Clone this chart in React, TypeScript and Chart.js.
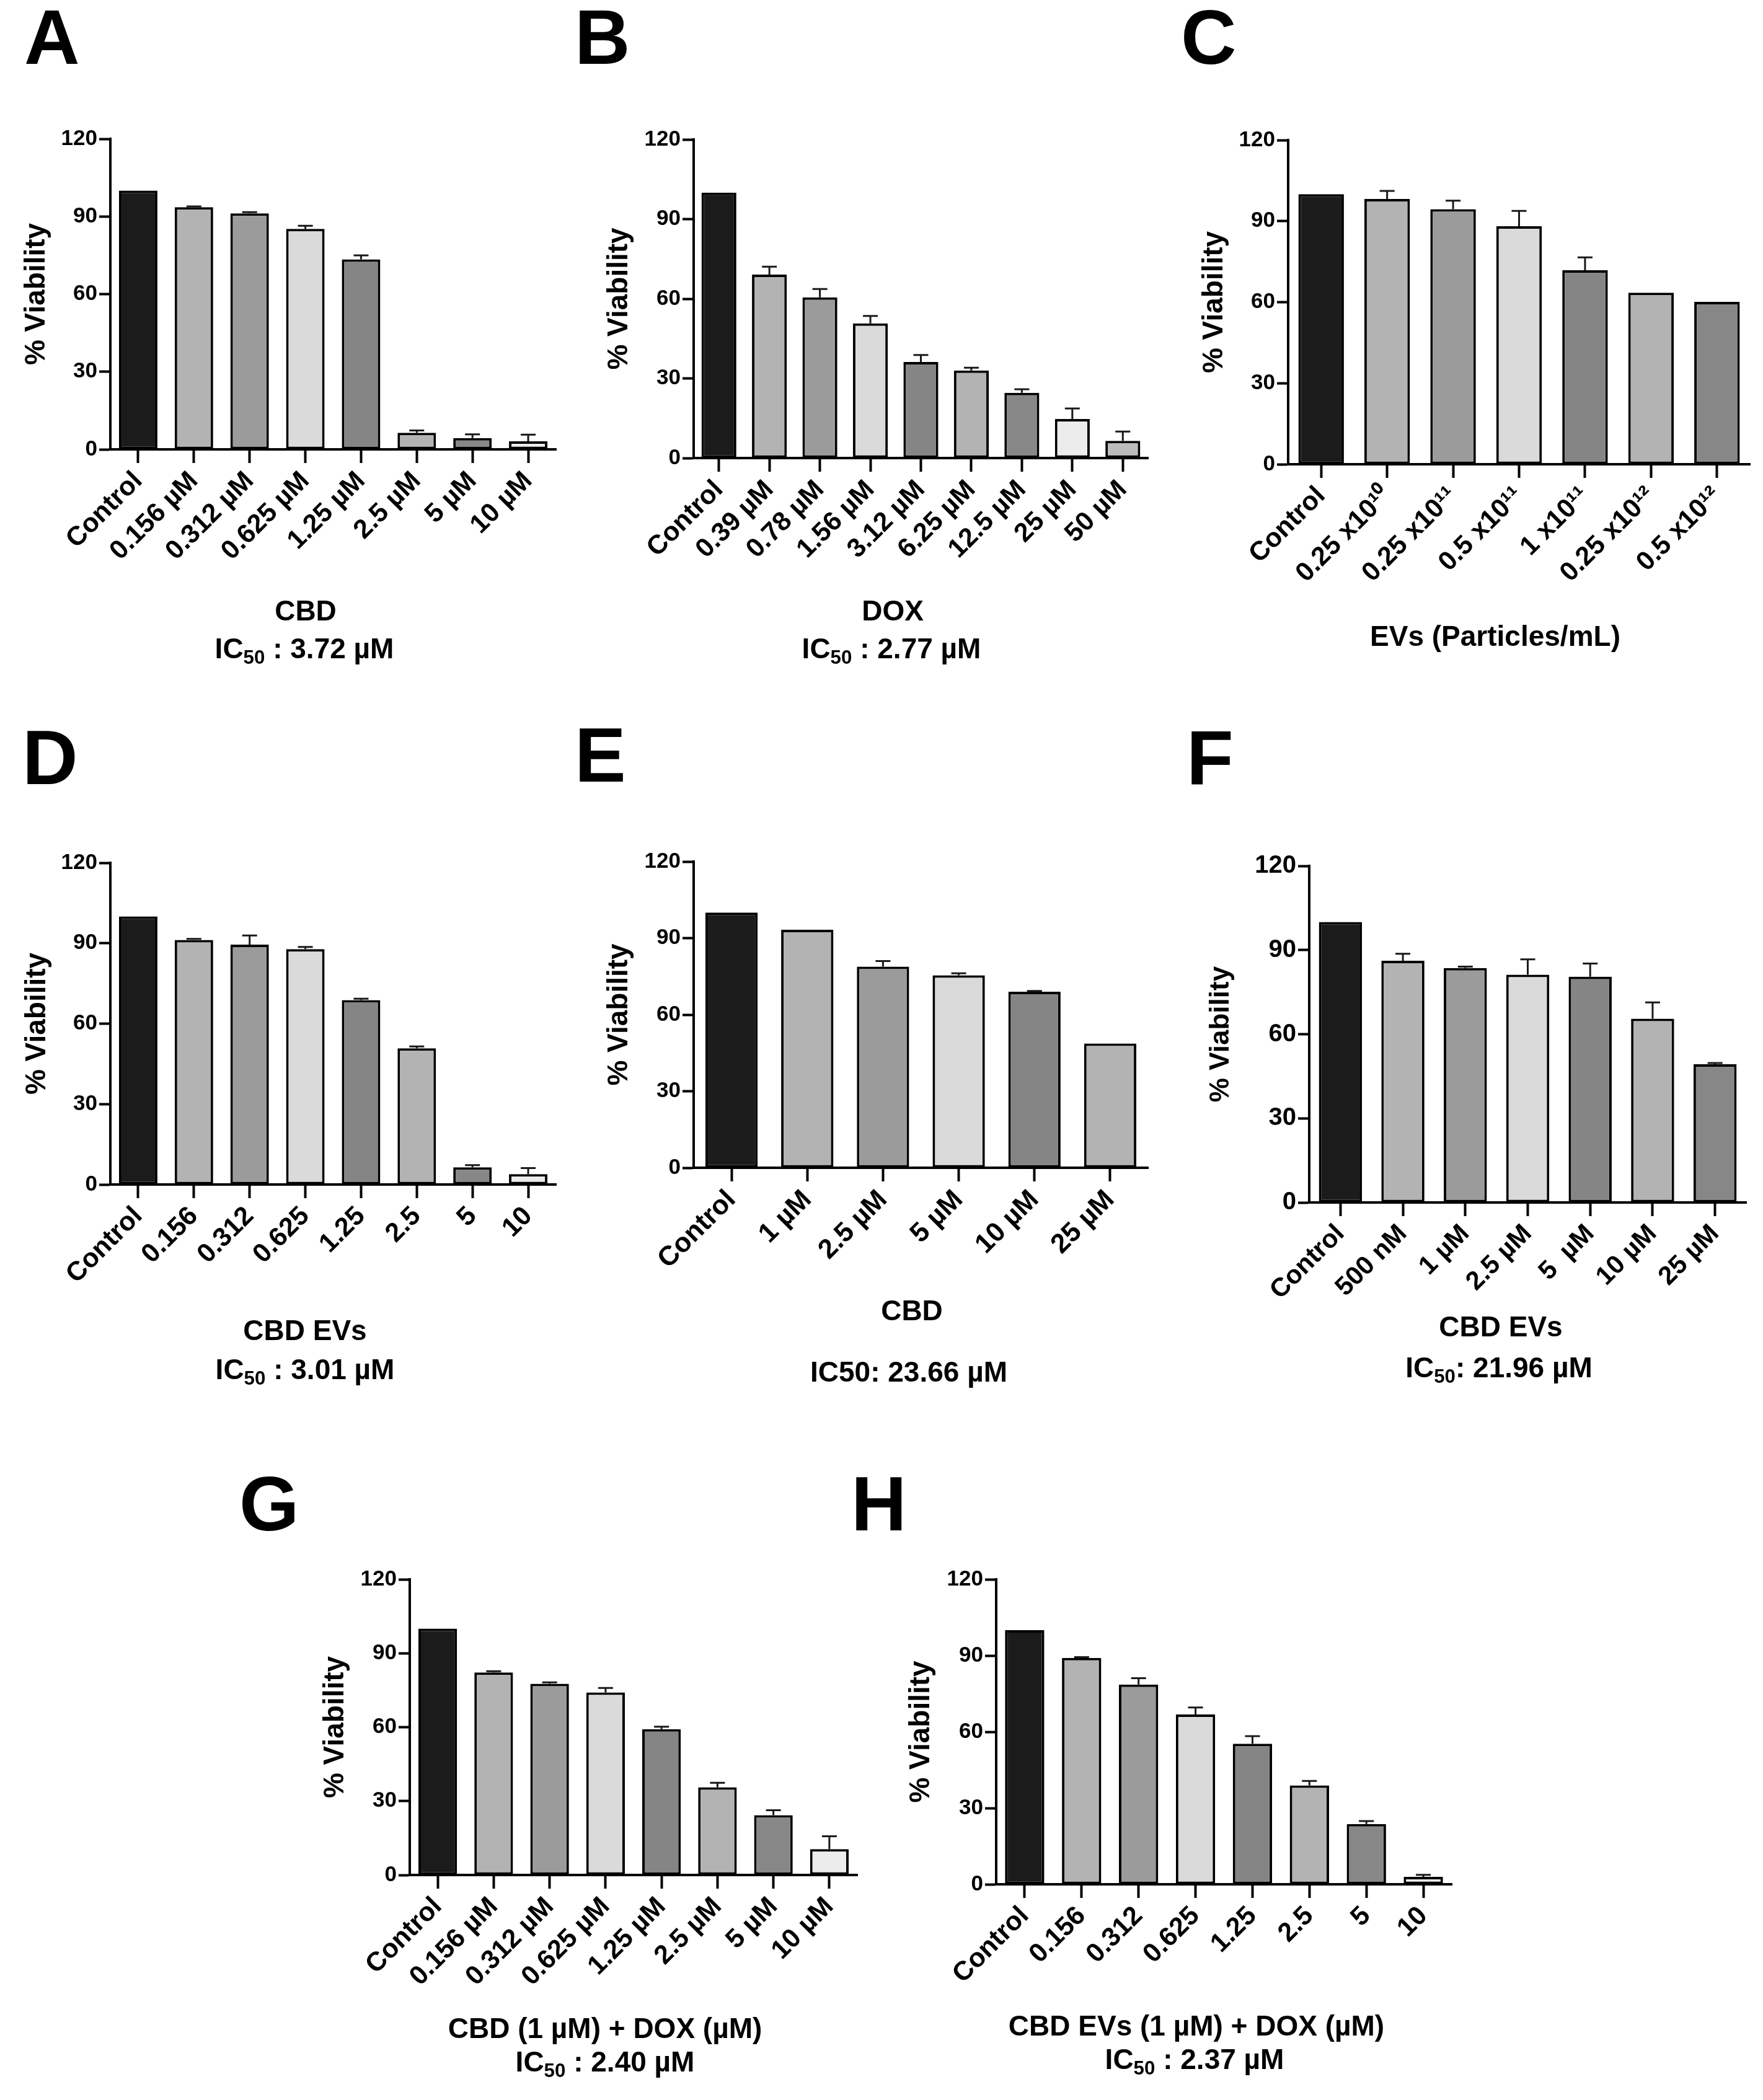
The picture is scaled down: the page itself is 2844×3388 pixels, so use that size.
import React, { useEffect, useRef } from 'react';
import { Chart, registerables } from 'chart.js';

Chart.register(...registerables);

const FONT = '"Liberation Sans", Arial, Helvetica, sans-serif';

// ---------- data ----------
const catsA = ['Control', '0.156 µM', '0.312 µM', '0.625 µM', '1.25 µM', '2.5 µM', '5 µM', '10 µM'];
const valsA = [100, 93.6, 91.2, 85.2, 73.4, 6.4, 4.4, 3.1];
const errA = [0, 0.3, 0.5, 1.2, 1.6, 0.9, 1.4, 2.6];

const catsB = ['Control', '0.39 µM', '0.78 µM', '1.56 µM', '3.12 µM', '6.25 µM', '12.5 µM', '25 µM', '50 µM'];
const valsB = [100, 69.1, 60.5, 50.7, 36.2, 33.0, 24.6, 14.7, 6.5];
const errB = [0, 3.0, 3.2, 2.8, 2.6, 1.0, 1.3, 4.0, 3.5];

const catsC = ['Control', '0.25 x10¹⁰', '0.25 x10¹¹', '0.5 x10¹¹', '1 x10¹¹', '0.25 x10¹²', '0.5 x10¹²'];
const valsC = [100, 98.2, 94.4, 88.1, 71.8, 63.5, 60.1];
const errC = [0, 3.0, 3.2, 5.7, 4.8, 0, 0];

const catsD = ['Control', '0.156', '0.312', '0.625', '1.25', '2.5', '5', '10'];
const valsD = [100, 91.2, 89.5, 87.8, 68.8, 50.8, 6.4, 3.9];
const errD = [0, 0.4, 3.4, 0.8, 0.5, 0.7, 0.8, 2.2];

const catsE = ['Control', '1 µM', '2.5 µM', '5 µM', '10 µM', '25 µM'];
const valsE = [100, 93.3, 78.8, 75.4, 69.0, 48.7];
const errE = [0, 0, 2.2, 0.8, 0.3, 0];

const catsF = ['Control', '500 nM', '1 µM', '2.5 µM', '5  µM', '10 µM', '25 µM'];
const valsF = [100, 86.2, 83.6, 81.2, 80.5, 65.5, 49.3];
const errF = [0, 2.5, 0.5, 5.5, 4.7, 5.8, 0.4];

const catsG = ['Control', '0.156 µM', '0.312 µM', '0.625 µM', '1.25 µM', '2.5 µM', '5 µM', '10 µM'];
const valsG = [100, 82.2, 77.6, 74.1, 59.2, 35.6, 24.3, 10.5];
const errG = [0, 0.5, 0.6, 1.8, 1.0, 1.8, 2.0, 5.2];

const catsH = ['Control', '0.156', '0.312', '0.625', '1.25', '2.5', '5', '10'];
const valsH = [100, 89.1, 78.6, 66.8, 55.3, 38.9, 23.7, 2.9];
const errH = [0, 0.3, 2.5, 2.8, 3.0, 1.8, 1.2, 0.8];

const yTicks = [0, 30, 60, 90, 120];
const yTitle = '% Viability';

const letters = ['A', 'B', 'C', 'D', 'E', 'F', 'G', 'H'];
const xTitles = ['CBD', 'DOX', 'EVs (Particles/mL)', 'CBD EVs', 'CBD', 'CBD EVs', 'CBD (1 µM) + DOX (µM)', 'CBD EVs (1 µM) + DOX (µM)'];
// IC50 lines: [prefix, subscript, suffix]
const ic50Lines: (string[] | null)[] = [
  ['IC', '50', ' : 3.72 µM'],
  ['IC', '50', ' : 2.77 µM'],
  null,
  ['IC', '50', ' : 3.01 µM'],
  ['IC50: 23.66 µM', '', ''],
  ['IC', '50', ': 21.96 µM'],
  ['IC', '50', ' : 2.40 µM'],
  ['IC', '50', ' : 2.37 µM'],
];

const FILLS = ['#1b1b1b', '#b3b3b3', '#9b9b9b', '#dadada', '#858585', '#b3b3b3', '#878787', '#ececec', '#bcbcbc'];

// ---------- layout (positions / sizes only) ----------
type Box = { L: number; T: number; B: number; R: number };
type Lay = {
  box: Box; yTick: number; xTick: number; yTitleDist: number; yTitleSize: number;
  letter: [number, number]; cap1: [number, number]; cap2: [number, number];
};
const LAYOUT: Lay[] = [
  { box: { L: 178, T: 224, B: 725, R: 897 }, yTick: 35, xTick: 43, yTitleDist: 118, yTitleSize: 46, letter: [39, -2], cap1: [493, 985], cap2: [491, 1046] },
  { box: { L: 1119, T: 225, B: 739, R: 1852 }, yTick: 35, xTick: 43, yTitleDist: 119, yTitleSize: 46, letter: [927, -2], cap1: [1440, 985], cap2: [1438, 1046] },
  { box: { L: 2078, T: 226, B: 749, R: 2823 }, yTick: 35, xTick: 43, yTitleDist: 118, yTitleSize: 46, letter: [1905, -2], cap1: [2412, 1026], cap2: [0, 0] },
  { box: { L: 178, T: 1392, B: 1911, R: 897 }, yTick: 35, xTick: 43, yTitleDist: 117, yTitleSize: 46, letter: [36, 1160], cap1: [492, 2146], cap2: [492, 2209] },
  { box: { L: 1119, T: 1390, B: 1884, R: 1852 }, yTick: 35, xTick: 44, yTitleDist: 119, yTitleSize: 46, letter: [927, 1156], cap1: [1471, 2114], cap2: [1466, 2213] },
  { box: { L: 2112, T: 1397, B: 1940, R: 2817 }, yTick: 40, xTick: 42, yTitleDist: 143, yTitleSize: 44, letter: [1914, 1160], cap1: [2421, 2140], cap2: [2418, 2206] },
  { box: { L: 661, T: 2548, B: 3025, R: 1383 }, yTick: 35, xTick: 43, yTitleDist: 119, yTitleSize: 46, letter: [386, 2364], cap1: [976, 3272], cap2: [976, 3326] },
  { box: { L: 1607, T: 2548, B: 3040, R: 2342 }, yTick: 35, xTick: 43, yTitleDist: 120, yTitleSize: 46, letter: [1373, 2364], cap1: [1930, 3268], cap2: [1927, 3322] },
];

const DATA = [
  { cats: catsA, vals: valsA, errs: errA },
  { cats: catsB, vals: valsB, errs: errB },
  { cats: catsC, vals: valsC, errs: errC },
  { cats: catsD, vals: valsD, errs: errD },
  { cats: catsE, vals: valsE, errs: errE },
  { cats: catsF, vals: valsF, errs: errF },
  { cats: catsG, vals: valsG, errs: errG },
  { cats: catsH, vals: valsH, errs: errH },
];

const errorBarPlugin = (errs: number[]) => ({
  id: 'errorBars',
  afterDatasetsDraw(chart: any) {
    const meta = chart.getDatasetMeta(0);
    const ys = chart.scales.y;
    const vals = chart.data.datasets[0].data as number[];
    const ctx = chart.ctx;
    ctx.save();
    ctx.strokeStyle = '#1a1a1a';
    ctx.lineWidth = 3;
    meta.data.forEach((bar: any, i: number) => {
      const e = errs[i];
      if (!e) return;
      const y0 = ys.getPixelForValue(vals[i]);
      const y1 = ys.getPixelForValue(vals[i] + e);
      ctx.beginPath();
      ctx.moveTo(bar.x, y0);
      ctx.lineTo(bar.x, y1);
      ctx.moveTo(bar.x - 12, y1);
      ctx.lineTo(bar.x + 12, y1);
      ctx.stroke();
    });
    ctx.restore();
  },
});

function Panel({ idx }: { idx: number }) {
  const ref = useRef<HTMLCanvasElement>(null);
  const lay = LAYOUT[idx];
  const d = DATA[idx];
  const { L, T, B, R } = lay.box;
  const pt = 40, pr = 40, xh = 330;
  const yw = Math.round(lay.yTitleDist + lay.yTitleSize * 0.6 + 6);
  const W = yw + (R - L) + pr;
  const H = pt + (B - T) + xh;

  useEffect(() => {
    const chart = new Chart(ref.current as HTMLCanvasElement, {
      type: 'bar',
      data: {
        labels: d.cats,
        datasets: [{
          data: d.vals,
          backgroundColor: d.cats.map((_, i) => FILLS[i]),
          borderColor: '#000',
          borderWidth: 4,
          borderSkipped: false,
          barPercentage: 0.69,
          categoryPercentage: 1,
        }],
      },
      options: {
        animation: false,
        responsive: false,
        maintainAspectRatio: false,
        devicePixelRatio: 1,
        layout: { padding: { top: pt, right: pr, left: 0, bottom: 0 } },
        plugins: { legend: { display: false }, tooltip: { enabled: false }, title: { display: false } },
        scales: {
          x: {
            type: 'category',
            offset: true,
            grid: { display: true, drawOnChartArea: false, drawTicks: true, tickLength: 22, tickWidth: 4, tickColor: '#000', offset: false },
            border: { display: true, color: '#000', width: 4 },
            ticks: {
              autoSkip: false, maxRotation: 45, minRotation: 45, color: '#000', padding: 4,
              font: { family: FONT, size: lay.xTick, weight: 'bold' },
            },
            afterFit: (s: any) => { s.height = xh; },
          },
          y: {
            min: yTicks[0],
            max: yTicks[yTicks.length - 1],
            ticks: {
              stepSize: yTicks[1] - yTicks[0], color: '#000', padding: 3,
              font: { family: FONT, size: lay.yTick, weight: 'bold' },
            },
            grid: { drawOnChartArea: false, drawTicks: true, tickLength: 18, tickWidth: 4, tickColor: '#000' },
            border: { display: true, color: '#000', width: 4 },
            title: {
              display: true, text: yTitle, color: '#000',
              font: { family: FONT, size: lay.yTitleSize, weight: 'bold' },
              padding: { top: 6, bottom: 0 },
            },
            afterFit: (s: any) => { s.width = yw; },
          },
        },
      } as any,
      plugins: [errorBarPlugin(d.errs)],
    });
    return () => chart.destroy();
  }, []);

  const ic = ic50Lines[idx];
  const capStyle: React.CSSProperties = {
    position: 'absolute', transform: 'translate(-50%, -50%)', font: `bold 46px ${FONT}`,
    lineHeight: 1, whiteSpace: 'pre', color: '#000',
  };
  return (
    <>
      <canvas ref={ref} width={W} height={H}
        style={{ position: 'absolute', left: L - yw, top: T - pt, width: W, height: H }} />
      <div style={{ position: 'absolute', left: lay.letter[0], top: lay.letter[1], font: `bold 124px ${FONT}`, lineHeight: 1, color: '#000' }}>
        {letters[idx]}
      </div>
      <div style={{ ...capStyle, left: lay.cap1[0], top: lay.cap1[1] }}>{xTitles[idx]}</div>
      {ic && (
        <div style={{ ...capStyle, left: lay.cap2[0], top: lay.cap2[1] }}>
          {ic[0]}
          {ic[1] && <span style={{ fontSize: '0.68em', position: 'relative', top: '0.3em' }}>{ic[1]}</span>}
          {ic[2]}
        </div>
      )}
    </>
  );
}

export default function App() {
  return (
    <div style={{ position: 'absolute', left: 0, top: 0, width: 2844, height: 3388, background: '#fff', overflow: 'hidden' }}>
      {LAYOUT.map((_, i) => <Panel key={i} idx={i} />)}
    </div>
  );
}
